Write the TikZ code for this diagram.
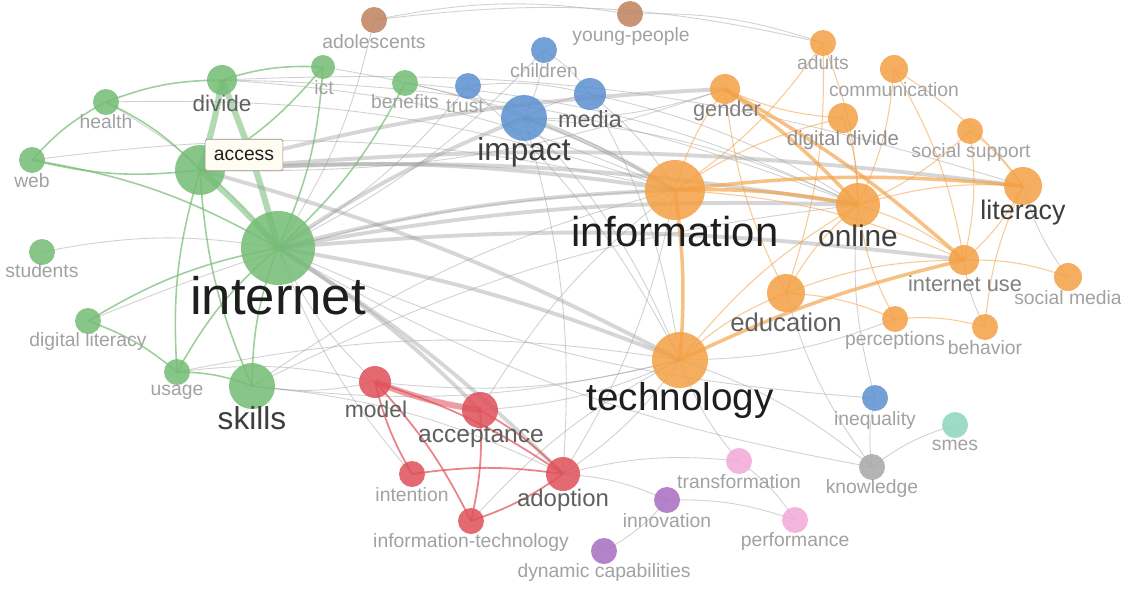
\documentclass[tikz,border=0pt]{standalone}
\usepackage{fontspec}
\setmainfont{Liberation Sans}
\usetikzlibrary{backgrounds}
\definecolor{CGreen}{HTML}{74BC74}
\definecolor{COrange}{HTML}{F4A043}
\definecolor{CBlue}{HTML}{5B90CF}
\definecolor{CRed}{HTML}{E0505A}
\definecolor{CBrown}{HTML}{BF825F}
\definecolor{CPurple}{HTML}{A86DC0}
\definecolor{CPink}{HTML}{F2A8D8}
\definecolor{CGrey}{HTML}{A8A8A8}
\definecolor{CTeal}{HTML}{8DD5BE}
\definecolor{EdgeGrey}{HTML}{9A9A9A}
\definecolor{TDark}{HTML}{1E1E1E}
\definecolor{TMid}{HTML}{3E3E3E}
\definecolor{TSoft}{HTML}{606060}
\definecolor{TLight}{HTML}{A2A2A2}
\definecolor{Tip}{HTML}{FFFDF2}
\begin{document}
\begin{tikzpicture}[x=0.02cm,y=-0.02cm,
  vn/.style 2 args={circle,fill=#1,fill opacity=.85,draw=none,inner sep=0pt,minimum size={#2*0.04cm}},
  lab/.style 2 args={font=\fontsize{#1}{#1}\selectfont,text=#2,inner sep=0pt},
  small/.style={lab={11}{TLight}},
  gthin/.style={draw=EdgeGrey,line width=.5pt,opacity=.45},
  gthick/.style={draw=EdgeGrey,line width=2.2pt,opacity=.4},
  grn/.style={draw=CGreen,line width=.9pt,opacity=.7},
  grnthick/.style={draw=CGreen,line width=3.5pt,opacity=.55},
  org/.style={draw=COrange,line width=.6pt,opacity=.55},
  orgthick/.style={draw=COrange,line width=2pt,opacity=.65},
  rd/.style={draw=CRed,line width=1pt,opacity=.7},
  rdthick/.style={draw=CRed,line width=3.5pt,opacity=.55}]
\useasboundingbox (0,0) rectangle (1121,589);
% green cluster
\node[vn={CGreen}{37}] (internet) at (278,248) {};
\node[vn={CGreen}{25}] (access) at (200,170) {};
\node[vn={CGreen}{15}] (divide) at (222,80) {};
\node[vn={CGreen}{12}] (ict) at (323,67) {};
\node[vn={CGreen}{13}] (benefits) at (405,83) {};
\node[vn={CGreen}{13}] (health) at (106,102) {};
\node[vn={CGreen}{13}] (web) at (32,160) {};
\node[vn={CGreen}{13}] (students) at (42,252) {};
\node[vn={CGreen}{13}] (diglit) at (88,321) {};
\node[vn={CGreen}{13}] (usage) at (177,372) {};
\node[vn={CGreen}{23}] (skills) at (252,386) {};
% brown
\node[vn={CBrown}{13}] (adolescents) at (374,20) {};
\node[vn={CBrown}{13}] (youngpeople) at (630,14) {};
% blue cluster
\node[vn={CBlue}{13}] (children) at (544,50) {};
\node[vn={CBlue}{13}] (trust) at (468,86) {};
\node[vn={CBlue}{16}] (media) at (590,94) {};
\node[vn={CBlue}{23}] (impact) at (524,118) {};
\node[vn={CBlue}{13}] (inequality) at (875,398) {};
% orange cluster
\node[vn={COrange}{13}] (adults) at (823,43) {};
\node[vn={COrange}{15}] (gender) at (725,89) {};
\node[vn={COrange}{14}] (communication) at (894,69) {};
\node[vn={COrange}{15}] (digdivide) at (843,118) {};
\node[vn={COrange}{13}] (socsupport) at (970,131) {};
\node[vn={COrange}{30}] (information) at (675,190) {};
\node[vn={COrange}{22}] (online) at (858,205) {};
\node[vn={COrange}{19}] (literacy) at (1023,186) {};
\node[vn={COrange}{15}] (internetuse) at (964,260) {};
\node[vn={COrange}{14}] (socmedia) at (1068,277) {};
\node[vn={COrange}{19}] (education) at (786,293) {};
\node[vn={COrange}{13}] (perceptions) at (895,319) {};
\node[vn={COrange}{13}] (behavior) at (985,327) {};
\node[vn={COrange}{28}] (technology) at (680,360) {};
% red cluster
\node[vn={CRed}{16}] (model) at (375,382) {};
\node[vn={CRed}{18}] (acceptance) at (480,410) {};
\node[vn={CRed}{13}] (intention) at (412,474) {};
\node[vn={CRed}{17}] (adoption) at (563,474) {};
\node[vn={CRed}{13}] (infotech) at (471,521) {};
% small clusters
\node[vn={CPurple}{13}] (innovation) at (667,500) {};
\node[vn={CPurple}{13}] (dyncap) at (604,551) {};
\node[vn={CPink}{13}] (transformation) at (739,461) {};
\node[vn={CPink}{13}] (performance) at (795,520) {};
\node[vn={CGrey}{13}] (knowledge) at (872,467) {};
\node[vn={CTeal}{13}] (smes) at (955,425) {};

% links
\begin{pgfonlayer}{background}
\fill[white] (0,0) rectangle (1121,589);
\foreach \a/\b in {divide/online,divide/information,ict/information,benefits/information,trust/internet,children/internet,
  impact/adoption,impact/technology,gender/impact,gender/access,media/information,media/online,trust/media,impact/media,
  children/impact,children/media,adolescents/youngpeople,adolescents/internet,adolescents/adults,youngpeople/adults,
  technology/adoption,technology/acceptance,technology/model,technology/knowledge,technology/skills,model/skills,
  model/internet,skills/adoption,skills/information,adoption/innovation,adoption/transformation,innovation/performance,
  innovation/dyncap,transformation/performance,transformation/technology,knowledge/smes,knowledge/inequality,
  knowledge/education,inequality/online,perceptions/technology,behavior/internetuse,socmedia/literacy,health/internet,
  web/information,students/internet,diglit/information,usage/technology,impact/online,information/adoption,
  infotech/technology,intention/internet,divide/literacy,health/information,benefits/online,trust/technology,
  skills/online,acceptance/information,media/technology,inequality/internet,knowledge/internet,usage/model}
  \draw[gthin] (\a.center) to[bend left=10] (\b.center);
\foreach \a/\b in {internet/information,access/information,internet/technology,access/online,internet/online,
  access/literacy,impact/information,internet/adoption,access/technology,internet/impact,internet/acceptance,
  internet/internetuse,access/gender}
  \draw[gthick] (\a.center) to[bend left=6] (\b.center);
\foreach \a/\b in {ict/access,ict/internet,skills/internet,skills/access,benefits/internet,usage/access,usage/internet,
  diglit/internet,diglit/usage,web/internet,web/health,health/divide,divide/ict,usage/skills,access/web,health/access}
  \draw[grn] (\a.center) to[bend left=10] (\b.center);
\foreach \a/\b in {access/internet,divide/access,divide/internet}
  \draw[grnthick] (\a.center) to[bend left=4] (\b.center);
\foreach \a/\b in {information/gender,online/literacy,online/internetuse,technology/education,technology/online,
  education/online,education/gender,adults/education,digdivide/online,communication/online,socsupport/literacy,
  literacy/internetuse,internetuse/socmedia,perceptions/behavior,digdivide/gender,adults/online,communication/literacy,
  socsupport/online,education/internetuse,perceptions/online,behavior/literacy,information/digdivide,
  information/internetuse,education/perceptions,adults/information,communication/internetuse,socsupport/internetuse}
  \draw[org] (\a.center) to[bend left=10] (\b.center);
\foreach \a/\b in {information/online,information/technology,information/literacy,technology/internetuse,
  gender/online,gender/internetuse}
  \draw[orgthick] (\a.center) to[bend left=6] (\b.center);
\foreach \a/\b in {model/adoption,acceptance/adoption,acceptance/infotech,model/infotech,intention/adoption,
  intention/model,adoption/infotech}
  \draw[rd] (\a.center) to[bend left=8] (\b.center);
\draw[rdthick] (model.center) to[bend right=6] (acceptance.center);
\end{pgfonlayer}

% labels
\node[lab={30}{TDark}] (internet-l) at (278,296) {internet};
\node[lab={23.8}{TDark}] (information-l) at (675,232) {information};
\node[lab={22}{TDark}] (technology-l) at (680,400) {technology};
\node[lab={18}{TMid}] (impact-l) at (524,152) {impact};
\node[lab={18}{TMid}] (skills-l) at (252,418) {skills};
\node[lab={17}{TMid}] (online-l) at (858,236) {online};
\node[lab={15.3}{TMid}] (literacy-l) at (1023,213) {literacy};
\node[lab={14.6}{TSoft}] (education-l) at (786,322) {education};
\node[lab={14}{TSoft}] (acceptance-l) at (481,437) {acceptance};
\node[lab={13.6}{TSoft}] (adoption-l) at (563,500) {adoption};
\node[lab={13}{TSoft}] (model-l) at (376,409) {model};
\node[lab={13.3}{TSoft}] (media-l) at (590,119) {media};
\node[lab={12.8}{TSoft}] (divide-l) at (222,103) {divide};
\node[lab={12.4}{TSoft!80}] (gender-l) at (727,111) {gender};
\node[lab={12.4}{TSoft!80}] (internetuse-l) at (965,284) {internet use};
\node[lab={11.6}{TSoft!70}] (digdivide-l) at (843,140) {digital divide};
\node[small] (communication-l) at (894,90) {communication};
\node[small] (socsupport-l) at (971,152) {social support};
\node[small] (socmedia-l) at (1068,298) {social media};
\node[small] (adults-l) at (823,63) {adults};
\node[small] (perceptions-l) at (895,340) {perceptions};
\node[small] (behavior-l) at (985,348) {behavior};
\node[small] (adolescents-l) at (374,42) {adolescents};
\node[small] (youngpeople-l) at (631,36) {young-people};
\node[small] (children-l) at (544,71) {children};
\node[small] (trust-l) at (465,106) {trust};
\node[small] (inequality-l) at (875,420) {inequality};
\node[small] (ict-l) at (324,88) {ict};
\node[small] (benefits-l) at (405,102) {benefits};
\node[small] (health-l) at (106,122) {health};
\node[small] (web-l) at (32,181) {web};
\node[small] (students-l) at (42,271) {students};
\node[small] (diglit-l) at (88,341) {digital literacy};
\node[small] (usage-l) at (177,392) {usage};
\node[small] (intention-l) at (412,495) {intention};
\node[small] (infotech-l) at (471,542) {information-technology};
\node[small] (innovation-l) at (667,521) {innovation};
\node[small] (dyncap-l) at (604,572) {dynamic capabilities};
\node[small] (transformation-l) at (739,482) {transformation};
\node[small] (performance-l) at (795,541) {performance};
\node[small] (knowledge-l) at (872,488) {knowledge};
\node[small] (smes-l) at (955,445) {smes};
% hover box
\node[draw=black!45,fill=Tip,rounded corners=1pt,inner xsep=5pt,inner ysep=6pt,font=\fontsize{11}{11}\selectfont,text=TDark] (access-tip) at (244,155) {access};
\end{tikzpicture}
\end{document}
